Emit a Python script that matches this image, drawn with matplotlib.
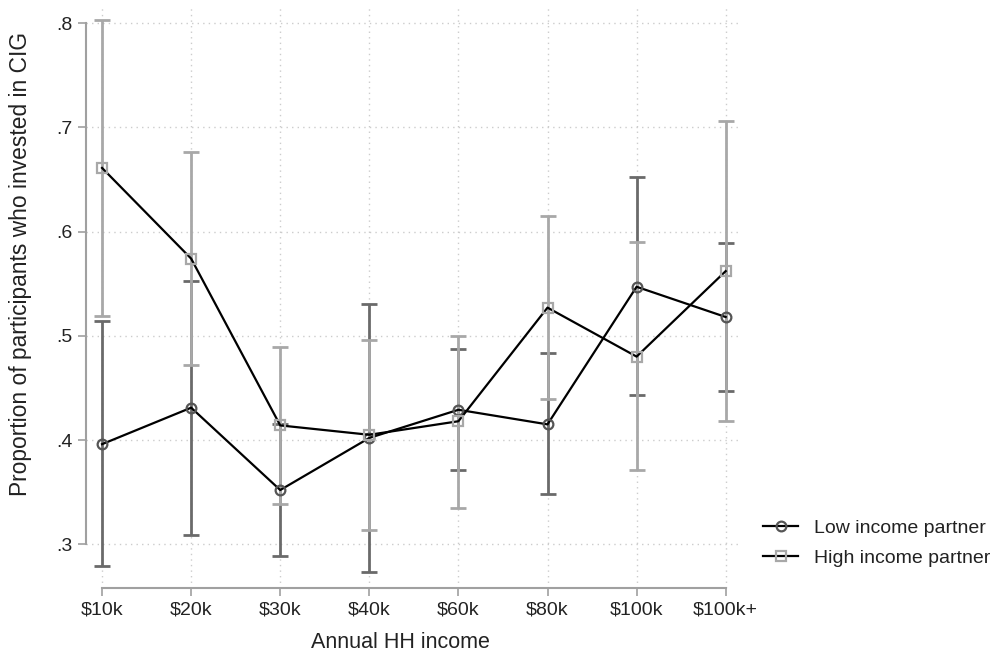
import numpy as np
import matplotlib
matplotlib.use("Agg")
import matplotlib.pyplot as plt

plt.rcParams['font.family'] = ['Liberation Sans', 'DejaVu Sans']

# categories
income = ["$10k", "$20k", "$30k", "$40k", "$60k", "$80k", "$100k", "$100k+"]

# low income partner: mean, CI low, CI high
low_mean = [0.396, 0.431, 0.352, 0.402, 0.429, 0.415, 0.547, 0.518]
low_lo = [0.279, 0.309, 0.289, 0.273, 0.371, 0.348, 0.443, 0.447]
low_hi = [0.514, 0.553, 0.415, 0.530, 0.487, 0.483, 0.652, 0.589]

# high income partner
high_mean = [0.661, 0.574, 0.414, 0.405, 0.418, 0.527, 0.480, 0.562]
high_lo = [0.519, 0.472, 0.339, 0.314, 0.335, 0.439, 0.371, 0.418]
high_hi = [0.803, 0.676, 0.489, 0.496, 0.500, 0.615, 0.590, 0.706]

yticks = [0.3, 0.4, 0.5, 0.6, 0.7, 0.8]
ytick_labels = [".3", ".4", ".5", ".6", ".7", ".8"]

dark = "#6a6a6a"
light = "#a8a8a8"
axis_col = "#a0a0a0"

x = np.arange(1, len(income) + 1)

fig = plt.figure(figsize=(9.98, 6.59), dpi=100)
ax = fig.add_axes([0.0862, 0.1077, 0.657, 0.8847])

# confidence intervals
ax.errorbar(x, low_mean, yerr=[np.subtract(low_mean, low_lo), np.subtract(low_hi, low_mean)],
            fmt='none', ecolor=dark, elinewidth=2, capsize=6, capthick=2, zorder=2)
ax.errorbar(x, high_mean, yerr=[np.subtract(high_mean, high_lo), np.subtract(high_hi, high_mean)],
            fmt='none', ecolor=light, elinewidth=2, capsize=6, capthick=2, zorder=3)

# means
ax.plot(x, low_mean, color='black', lw=1.6, marker='o', ms=7, mfc='none',
        mec='#555555', mew=1.6, zorder=4, label="Low income partner")
ax.plot(x, high_mean, color='black', lw=1.6, marker='s', ms=7, mfc='none',
        mec=light, mew=1.6, zorder=4, label="High income partner")

ax.set_xlim(0.82, 8.18)
ax.set_ylim(0.258, 0.8173)
ax.set_xticks(x)
ax.set_xticklabels(income, fontsize=14)
ax.set_yticks(yticks)
ax.set_yticklabels(ytick_labels, fontsize=14)

ax.grid(True, color='#cccccc', linestyle=(0, (1, 3)), linewidth=1)
ax.set_axisbelow(True)

for s in ['top', 'right']:
    ax.spines[s].set_visible(False)
ax.spines['left'].set_bounds(0.3, 0.8)
ax.spines['bottom'].set_bounds(1, 8)
ax.spines['left'].set_color(axis_col)
ax.spines['bottom'].set_color(axis_col)
ax.spines['left'].set_linewidth(1.5)
ax.spines['bottom'].set_linewidth(1.5)
ax.tick_params(colors='#222222', length=6, width=1.2, color=axis_col)
ax.tick_params(axis='y', pad=4)

ax.set_xlabel("Annual HH income", fontsize=15.5, color='#222222', labelpad=10)
ax.xaxis.set_label_coords(0.479, -0.075)
ax.set_ylabel("Proportion of participants who invested in CIG", fontsize=16.4,
              color='#222222', labelpad=12)
ax.yaxis.set_label_coords(-0.083, 0.556)

leg = ax.legend(loc='center left', bbox_to_anchor=(1.006, 0.077), frameon=False,
                fontsize=14, handlelength=1.8, labelspacing=0.66, handletextpad=0.8)
for t in leg.get_texts():
    t.set_color('#222222')

fig.savefig("out.png", dpi=100)
